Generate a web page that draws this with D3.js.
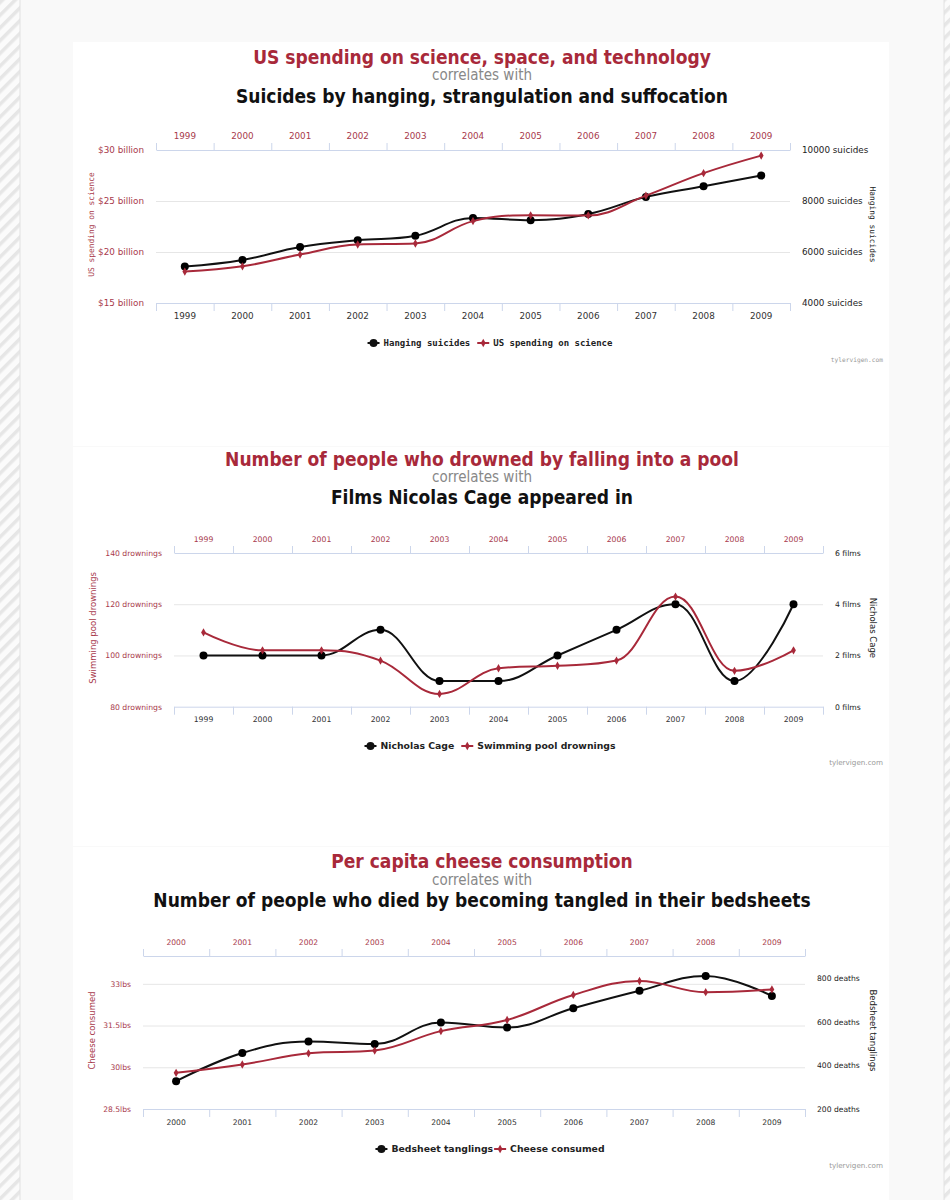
<!DOCTYPE html>
<html>
<head>
<meta charset="utf-8">
<script src="https://cdn.jsdelivr.net/npm/d3@7/dist/d3.min.js"></script>
<style>
  html, body { margin: 0; padding: 0; background: #fff; }
  svg { display: block; }
</style>
</head>
<body>
<div id="page"></div>
<script>
// ---- data ----
const years1 = [1999, 2000, 2001, 2002, 2003, 2004, 2005, 2006, 2007, 2008, 2009];
const scienceSpending = [18.079, 18.594, 19.753, 20.734, 20.831, 23.029, 23.597, 23.584, 25.525, 27.731, 29.449]; // $ billions
const hangingSuicides = [5427, 5688, 6198, 6462, 6635, 7336, 7248, 7491, 8161, 8578, 9000];
const spendingTicks = [15, 20, 25, 30];
const suicideTicks = [4000, 6000, 8000, 10000];

const years2 = [1999, 2000, 2001, 2002, 2003, 2004, 2005, 2006, 2007, 2008, 2009];
const poolDrownings = [109, 102, 102, 98, 85, 95, 96, 98, 123, 94, 102];
const cageFilms = [2, 2, 2, 3, 1, 1, 2, 3, 4, 1, 4];
const drowningTicks = [80, 100, 120, 140];
const filmTicks = [0, 2, 4, 6];

const years3 = [2000, 2001, 2002, 2003, 2004, 2005, 2006, 2007, 2008, 2009];
const cheeseLbs = [29.8, 30.1, 30.5, 30.6, 31.3, 31.7, 32.6, 33.1, 32.7, 32.8];
const bedsheetDeaths = [327, 456, 509, 497, 596, 573, 661, 741, 809, 717];
const cheeseTicks = [28.5, 30, 31.5, 33];
const deathTicks = [200, 400, 600, 800];

const RED = "#a8293a";
const RED_TEXT = "#a83a4c";
const SANS = "'DejaVu Sans', sans-serif";
const COND = "'DejaVu Sans Condensed', 'DejaVu Sans', sans-serif";
const MONO = "'DejaVu Sans Mono', monospace";

const charts = [
  {
    title: "US spending on science, space, and technology",
    sub: "Suicides by hanging, strangulation and suffocation",
    years: years1, red: scienceSpending, black: hangingSuicides,
    leftTicks: spendingTicks, leftDomain: [15, 30], leftFmt: d => "$" + d + " billion",
    rightTicks: suicideTicks, rightDomain: [4000, 10000], rightFmt: d => d + " suicides",
    leftTitle: "US spending on science", rightTitle: "Hanging suicides",
    blackName: "Hanging suicides", redName: "US spending on science",
    x0: 156, x1: 790, top: 150, bot: 303,
    titleY: 57, corrY: 75, subY: 96, legendY: 343, creditY: 360,
    leftTitleX: 91, rightTitleX: 873,
    axisSize: 8.8, titleFont: MONO, titleSize: 7.9, legendFont: MONO, legendSize: 9, legendWeight: "bold",
    creditFont: MONO, creditSize: 6.2, itemGap: 7, cardTop: 42, cardBot: 446
  },
  {
    title: "Number of people who drowned by falling into a pool",
    sub: "Films Nicolas Cage appeared in",
    years: years2, red: poolDrownings, black: cageFilms,
    leftTicks: drowningTicks, leftDomain: [80, 140], leftFmt: d => d + " drownings",
    rightTicks: filmTicks, rightDomain: [0, 6], rightFmt: d => d + " films",
    leftTitle: "Swimming pool drownings", rightTitle: "Nicholas Cage",
    blackName: "Nicholas Cage", redName: "Swimming pool drownings",
    x0: 174, x1: 823, top: 553, bot: 706.7,
    titleY: 459, corrY: 477, subY: 497, legendY: 746, creditY: 762,
    leftTitleX: 93, rightTitleX: 873,
    axisSize: 7.7, titleFont: SANS, titleSize: 8.5, legendFont: SANS, legendSize: 9.3, legendWeight: "bold",
    creditFont: SANS, creditSize: 7.2, itemGap: 7, cardTop: 447, cardBot: 846
  },
  {
    title: "Per capita cheese consumption",
    sub: "Number of people who died by becoming tangled in their bedsheets",
    years: years3, red: cheeseLbs, black: bedsheetDeaths,
    leftTicks: cheeseTicks, leftDomain: [28.5, 34], leftFmt: d => d + "lbs",
    rightTicks: deathTicks, rightDomain: [200, 900], rightFmt: d => d + " deaths",
    leftTitle: "Cheese consumed", rightTitle: "Bedsheet tanglings",
    blackName: "Bedsheet tanglings", redName: "Cheese consumed",
    x0: 143, x1: 805, top: 956, bot: 1109,
    titleY: 861, corrY: 880, subY: 900, legendY: 1149, creditY: 1165,
    leftTitleX: 92, rightTitleX: 873,
    axisSize: 7.6, titleFont: SANS, titleSize: 8.5, legendFont: SANS, legendSize: 9.3, legendWeight: "bold",
    creditFont: SANS, creditSize: 7.2, itemGap: 1, cardTop: 847, cardBot: 1200
  }
];

// Highcharts-like spline (smoothing 1.5, control points clamped to avoid false extremes)
function hcSpline(context) {
  let pts;
  return {
    areaStart() {}, areaEnd() {},
    lineStart() { pts = []; },
    point(x, y) { pts.push([+x, +y]); },
    lineEnd() {
      const n = pts.length;
      if (!n) return;
      const sm = 1.5, den = sm + 1;
      const ctrl = pts.map((p, i) => {
        if (i === 0 || i === n - 1) return null;
        const [lx, ly] = pts[i - 1], [x, y] = p, [nx, ny] = pts[i + 1];
        let lcx = (sm * x + lx) / den, lcy = (sm * y + ly) / den;
        let rcx = (sm * x + nx) / den, rcy = (sm * y + ny) / den;
        let corr = 0;
        if (rcx !== lcx) corr = ((rcy - lcy) * (rcx - x)) / (rcx - lcx) + y - rcy;
        lcy += corr; rcy += corr;
        if (lcy > ly && lcy > y) { lcy = Math.max(ly, y); rcy = 2 * y - lcy; }
        else if (lcy < ly && lcy < y) { lcy = Math.min(ly, y); rcy = 2 * y - lcy; }
        if (rcy > ny && rcy > y) { rcy = Math.max(ny, y); lcy = 2 * y - rcy; }
        else if (rcy < ny && rcy < y) { rcy = Math.min(ny, y); lcy = 2 * y - rcy; }
        return { l: [lcx, lcy], r: [rcx, rcy] };
      });
      context.moveTo(pts[0][0], pts[0][1]);
      for (let i = 1; i < n; i++) {
        const a = ctrl[i - 1] ? ctrl[i - 1].r : pts[i - 1];
        const b = ctrl[i] ? ctrl[i].l : pts[i];
        context.bezierCurveTo(a[0], a[1], b[0], b[1], pts[i][0], pts[i][1]);
      }
    }
  };
}

const W = 950, H = 1200;
const svg = d3.select("#page").append("svg").attr("width", W).attr("height", H);

// hatched page edges
const defs = svg.append("defs");
const pat = defs.append("pattern").attr("id", "hatch").attr("patternUnits", "userSpaceOnUse")
  .attr("width", 9).attr("height", 9).attr("patternTransform", "rotate(45)");
pat.append("rect").attr("width", 9).attr("height", 9).attr("fill", "#fbfbfb");
pat.append("rect").attr("width", 3.5).attr("height", 9).attr("fill", "#e6e6e6");
svg.append("rect").attr("width", W).attr("height", H).attr("fill", "url(#hatch)");
svg.append("rect").attr("x", 20).attr("y", -1).attr("width", 924).attr("height", H + 2)
  .attr("fill", "#f9f9f9").attr("stroke", "#e2e2e2");

charts.forEach(c => {
  svg.append("rect").attr("x", 73).attr("y", c.cardTop).attr("width", 816).attr("height", c.cardBot - c.cardTop)
    .attr("fill", "#fff");
});

function diamond(sz) { return d3.symbol(d3.symbolDiamond, sz)(); }

function drawChart(c) {
  const g = svg.append("g");
  const cx = 482;

  g.append("text").attr("x", cx).attr("y", c.titleY).attr("text-anchor", "middle").attr("dy", "0.35em")
    .style("font-family", COND).style("font-weight", "bold").style("font-size", "19px").attr("fill", RED)
    .text(c.title);
  g.append("text").attr("x", cx).attr("y", c.corrY).attr("text-anchor", "middle").attr("dy", "0.35em")
    .style("font-family", COND).style("font-size", "15px").attr("fill", "#888")
    .text("correlates with");
  g.append("text").attr("x", cx).attr("y", c.subY).attr("text-anchor", "middle").attr("dy", "0.35em")
    .style("font-family", COND).style("font-weight", "bold").style("font-size", "19px").attr("fill", "#111")
    .text(c.sub);

  const x = d3.scaleBand().domain(c.years).range([c.x0, c.x1]);
  const xEdge = d3.scaleLinear().domain([0, c.years.length]).range([c.x0, c.x1]);
  const yL = d3.scaleLinear().domain(c.leftDomain).range([c.bot, c.top]);
  const yR = d3.scaleLinear().domain(c.rightDomain).range([c.bot, c.top]);
  const px = d => x(d) + x.bandwidth() / 2;

  // grid
  g.append("g").attr("transform", `translate(${c.x0},0)`)
    .call(d3.axisLeft(yL).tickValues(c.leftTicks.filter(t => yL(t) > c.top + 1 && yL(t) < c.bot - 1))
      .tickSize(-(c.x1 - c.x0)).tickFormat(""))
    .call(s => s.select(".domain").remove())
    .call(s => s.selectAll("line").attr("stroke", "#e6e6e6"));

  const edges = d3.range(c.years.length + 1);
  // top axis
  g.append("g").attr("transform", `translate(0,${c.top})`)
    .call(d3.axisTop(xEdge).tickValues(edges).tickSize(7).tickSizeOuter(0).tickFormat(""))
    .call(s => s.selectAll("line, path").attr("stroke", "#ccd6eb"));
  g.append("g").attr("transform", `translate(0,${c.top})`)
    .call(d3.axisTop(x).tickSize(0).tickPadding(14))
    .call(s => s.select(".domain").remove())
    .call(s => s.selectAll("text").attr("fill", RED_TEXT).attr("dy", "0.35em")
      .style("font-family", SANS).style("font-size", c.axisSize + "px"));
  // bottom axis
  g.append("g").attr("transform", `translate(0,${c.bot})`)
    .call(d3.axisBottom(xEdge).tickValues(edges).tickSize(8).tickSizeOuter(0).tickFormat(""))
    .call(s => s.selectAll("line, path").attr("stroke", "#ccd6eb"));
  g.append("g").attr("transform", `translate(0,${c.bot})`)
    .call(d3.axisBottom(x).tickSize(0).tickPadding(13))
    .call(s => s.select(".domain").remove())
    .call(s => s.selectAll("text").attr("fill", "#333").attr("dy", "0.35em")
      .style("font-family", SANS).style("font-size", c.axisSize + "px"));

  // left / right value axes
  g.append("g").attr("transform", `translate(${c.x0},0)`)
    .call(d3.axisLeft(yL).tickValues(c.leftTicks).tickFormat(c.leftFmt).tickSize(0).tickPadding(12))
    .call(s => s.select(".domain").remove())
    .call(s => s.selectAll("text").attr("fill", RED_TEXT)
      .style("font-family", SANS).style("font-size", c.axisSize + "px"));
  g.append("g").attr("transform", `translate(${c.x1},0)`)
    .call(d3.axisRight(yR).tickValues(c.rightTicks).tickFormat(c.rightFmt).tickSize(0).tickPadding(12))
    .call(s => s.select(".domain").remove())
    .call(s => s.selectAll("text").attr("fill", "#222")
      .style("font-family", SANS).style("font-size", c.axisSize + "px"));

  const midY = (c.top + c.bot) / 2 - 2;
  g.append("text").attr("transform", `translate(${c.leftTitleX},${midY}) rotate(-90)`)
    .attr("text-anchor", "middle").attr("dy", "0.35em").attr("fill", RED_TEXT)
    .style("font-family", c.titleFont).style("font-size", c.titleSize + "px").text(c.leftTitle);
  g.append("text").attr("transform", `translate(${c.rightTitleX},${midY}) rotate(90)`)
    .attr("text-anchor", "middle").attr("dy", "0.35em").attr("fill", "#222")
    .style("font-family", c.titleFont).style("font-size", c.titleSize + "px").text(c.rightTitle);

  // series
  const line = d3.line().curve(hcSpline);
  const blackPts = c.years.map((yr, i) => [px(yr), yR(c.black[i])]);
  const redPts = c.years.map((yr, i) => [px(yr), yL(c.red[i])]);

  g.append("path").attr("d", line(blackPts)).attr("fill", "none").attr("stroke", "#111").attr("stroke-width", 2);
  g.selectAll(null).data(blackPts).join("circle")
    .attr("cx", d => d[0]).attr("cy", d => d[1]).attr("r", 4).attr("fill", "#000");
  g.append("path").attr("d", line(redPts)).attr("fill", "none").attr("stroke", RED).attr("stroke-width", 2);
  g.selectAll(null).data(redPts).join("path")
    .attr("transform", d => `translate(${d[0]},${d[1]})`).attr("d", diamond(20)).attr("fill", RED);

  // legend
  const lg = g.append("g").attr("transform", `translate(0,${c.legendY})`);
  const items = [
    { name: c.blackName, color: "#111", circle: true },
    { name: c.redName, color: RED, circle: false }
  ];
  let cur = 0;
  items.forEach((it, i) => {
    const ig = lg.append("g").attr("transform", `translate(${cur},0)`);
    ig.append("line").attr("x1", 0).attr("x2", 12).attr("stroke", it.color).attr("stroke-width", 2);
    if (it.circle) ig.append("circle").attr("cx", 6).attr("r", 4).attr("fill", it.color);
    else ig.append("path").attr("transform", "translate(6,0)").attr("d", diamond(20)).attr("fill", it.color);
    const t = ig.append("text").attr("x", 16).attr("dy", "0.35em").attr("fill", "#222")
      .style("font-family", c.legendFont).style("font-weight", c.legendWeight)
      .style("font-size", c.legendSize + "px").text(it.name);
    cur += 16 + t.node().getComputedTextLength() + (i === 0 ? c.itemGap : 0);
  });
  lg.attr("transform", `translate(${490 - cur / 2},${c.legendY})`);

  g.append("text").attr("x", 883).attr("y", c.creditY).attr("text-anchor", "end").attr("dy", "0.35em")
    .attr("fill", "#999").style("font-family", c.creditFont).style("font-size", c.creditSize + "px")
    .text("tylervigen.com");
}

charts.forEach(drawChart);
</script>
</body>
</html>
